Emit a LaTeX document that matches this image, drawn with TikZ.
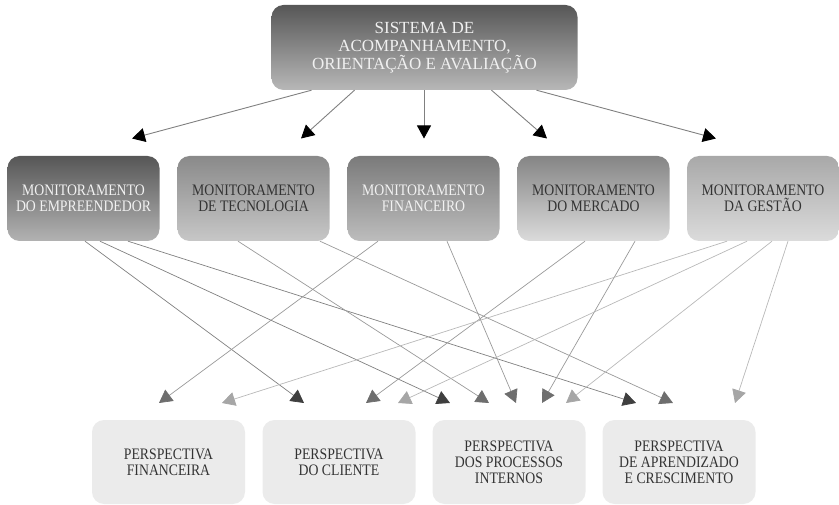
\documentclass[tikz,border=0pt]{standalone}
\usepackage{fontspec}
\setmainfont{Liberation Serif}
\newfontfamily\narrowserif[FakeStretch=0.86]{Liberation Serif}
\usetikzlibrary{arrows.meta}
\definecolor{headdark}{HTML}{3F3F3F}
\definecolor{headmid}{HTML}{6E6E6E}
\definecolor{headlight}{HTML}{A6A6A6}
\definecolor{boxtext}{HTML}{333333}
\definecolor{pale}{HTML}{EBEBEB}

\begin{document}
\begin{tikzpicture}[x=1pt,y=-1pt]
		\tikzstyle{sysbox} = [rounded corners=12, minimum width=306, minimum height=85, inner sep=0,
		top color=black!66, bottom color=black!28, text=white!94!black, align=center,
		font=\fontsize{17}{18.3}\selectfont]
		\tikzstyle{monbox} = [rounded corners=12, minimum width=152, minimum height=85, inner sep=0,
		align=center, font=\narrowserif\fontsize{16}{16.2}\selectfont]
		\tikzstyle{perbox} = [rounded corners=12, minimum width=153, minimum height=84, inner sep=0,
		fill=pale, text=boxtext, align=center, font=\narrowserif\fontsize{16}{16.2}\selectfont]
		\tikzstyle{toplink} = [draw=black!50, line width=0.9, -{Triangle[length=13pt,width=14pt,color=black]}]
		\tikzstyle{empline} = [draw=black!50, line width=0.7, -{Triangle[length=13pt,width=14pt,color=headdark]}]
		\tikzstyle{midline} = [draw=black!40, line width=0.7, -{Triangle[length=13pt,width=14pt,color=headmid]}]
		\tikzstyle{gesline} = [draw=black!28, line width=0.7, -{Triangle[length=13pt,width=14pt,color=headlight]}]
		\useasboundingbox (0,0) rectangle (839,505);
		\node [sysbox] (sys) at (424.5,47.5) {SISTEMA DE\\ACOMPANHAMENTO,\\ORIENTAÇÃO E AVALIAÇÃO};
		
		\node [monbox, top color=black!66, bottom color=black!30, text=white!95!black] (memp) at (83.5,198.5) {MONITORAMENTO\\DO EMPREENDEDOR};
		\node [monbox, top color=black!46, bottom color=black!22, text=boxtext] (mtec) at (253.5,198.5) {MONITORAMENTO\\DE TECNOLOGIA};
		\node [monbox, top color=black!52, bottom color=black!26, text=white!95!black] (mfin) at (423.5,198.5) {MONITORAMENTO\\FINANCEIRO};
		\node [monbox, top color=black!48, bottom color=black!14, text=boxtext] (mmer) at (593.5,198.5) {MONITORAMENTO\\DO MERCADO};
		\node [monbox, top color=black!34, bottom color=black!14, text=boxtext] (mges) at (763,198.5) {MONITORAMENTO\\DA GESTÃO};
		
		\node [perbox] (pfin) at (168.5,462) {PERSPECTIVA\\FINANCEIRA};
		\node [perbox] (pcli) at (339,462) {PERSPECTIVA\\DO CLIENTE};
		\node [perbox] (ppro) at (509,462) {PERSPECTIVA\\DOS PROCESSOS\\INTERNOS};
		\node [perbox] (papr) at (679,462) {PERSPECTIVA\\DE APRENDIZADO\\E CRESCIMENTO};
		
		% arrow ends over the second row
		\coordinate (t1) at (132,138.5);
		\coordinate (t2) at (301,138.5);
		\coordinate (t3) at (424,138.5);
		\coordinate (t4) at (547,138.5);
		\coordinate (t5) at (716,138.5);
		
		% arrow ends over the perspectives
		\coordinate (f1) at (159,403);
		\coordinate (f2) at (222,403);
		\coordinate (c1) at (304,403);
		\coordinate (c2) at (366,403);
		\coordinate (c3) at (398,403);
		\coordinate (i1) at (450,403);
		\coordinate (i2) at (489,403);
		\coordinate (i3) at (516,403);
		\coordinate (i4) at (542,403);
		\coordinate (i5) at (566,403);
		\coordinate (a1) at (636,403);
		\coordinate (a2) at (673,403);
		\coordinate (a3) at (735,403);
		
		\draw [toplink] ([xshift=-113]sys.south) -- (t1);
		\draw [toplink] ([xshift=-70]sys.south) -- (t2);
		\draw [toplink] ([xshift=-0.5]sys.south) -- (t3);
		\draw [toplink] ([xshift=67]sys.south) -- (t4);
		\draw [toplink] ([xshift=112]sys.south) -- (t5);
		
		\draw [empline] ([xshift=1.5]memp.south) -- (c1);
		\draw [empline] ([xshift=16.5]memp.south) -- (i1);
		\draw [empline] ([xshift=44.5]memp.south) -- (a1);
		\draw [midline] ([xshift=-15.5]mtec.south) -- (i2);
		\draw [midline] ([xshift=66.5]mtec.south) -- (a2);
		\draw [midline] ([xshift=-45.5]mfin.south) -- (f1);
		\draw [midline] ([xshift=23.5]mfin.south) -- (i3);
		\draw [midline] ([xshift=-8.5]mmer.south) -- (c2);
		\draw [midline] ([xshift=41.5]mmer.south) -- (i4);
		\draw [gesline] ([xshift=-36]mges.south) -- (f2);
		\draw [gesline] ([xshift=-16]mges.south) -- (c3);
		\draw [gesline] ([xshift=9]mges.south) -- (i5);
		\draw [gesline] ([xshift=25]mges.south) -- (a3);
\end{tikzpicture}
\end{document}
